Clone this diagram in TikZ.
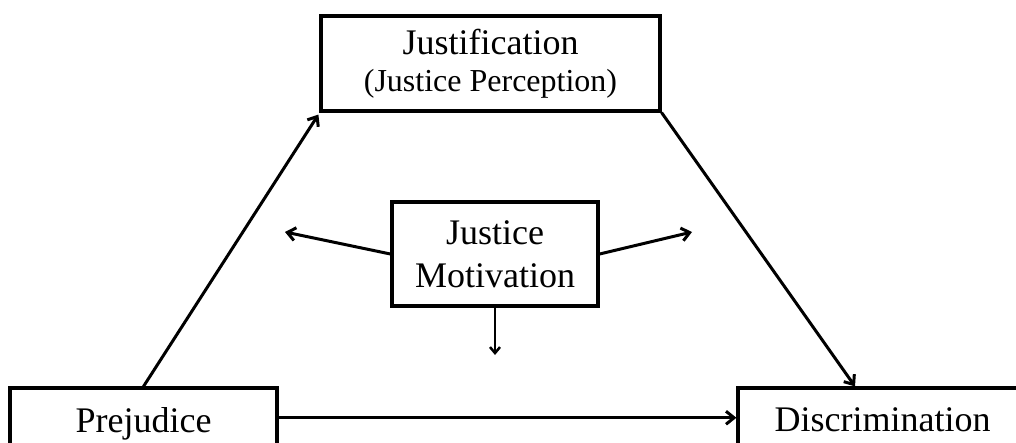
\documentclass[tikz,border=0pt]{standalone}
\usepackage{fontspec}
\setmainfont{Liberation Serif}
\usetikzlibrary{arrows.meta}
\begin{document}
\begin{tikzpicture}[x=1pt,y=-1pt,
  box/.style={draw, line width=3.2pt, fill=white, inner sep=0pt, align=center,
    font=\fontsize{36}{43}\selectfont},
  link/.style={line width=3pt, -{Straight Barb[length=8pt,width=13pt]}},
]
\useasboundingbox (0,0) rectangle (1016,442);
\clip (0,0) rectangle (1016,442);

% boxes
\node[box, minimum width=339pt, minimum height=95pt] (just) at (490.5,63.5)
  {Justification\\[-6pt]{\fontsize{32}{36}\selectfont (Justice Perception)}};
\node[box, minimum width=206pt, minimum height=104pt] (mot) at (495,254)
  {Justice\\Motivation};
\node[box, minimum width=267pt, minimum height=71.5pt] (prej) at (143.5,423.75)
  {Prejudice};
\node[box, minimum width=289pt, minimum height=63.5pt] (disc) at (882.5,419.75)
  {Discrimination};

% free ends of the arrows leaving the motivation box
\coordinate (lt) at (285,232);
\coordinate (rt) at (692,232);
\coordinate (dn) at (495,355);

% connectors
\draw[link] (prej.north) -- ([xshift=-1pt,yshift=-2pt]just.south west);
\draw[link] (just.south east) -- ([xshift=-27.5pt]disc.north);
\draw[link] ([yshift=6pt]prej.east) -- ([yshift=2pt]disc.west);
\draw[link] (mot.west) -- (lt);
\draw[link] (mot.east) -- (rt);
\draw[link, line width=2pt, -{Straight Barb[length=6pt,width=10pt,line width=2.5pt]}] (mot.south) -- (dn);
\end{tikzpicture}
\end{document}
